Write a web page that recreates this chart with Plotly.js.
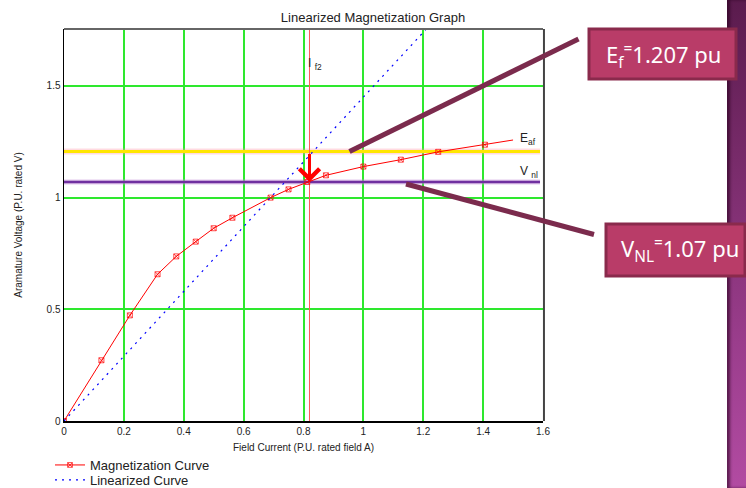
<!DOCTYPE html>
<html><head><meta charset="utf-8">
<script src="https://cdn.plot.ly/plotly-3.0.1.min.js"></script>
<style>
html,body{margin:0;padding:0;background:#fff;width:746px;height:488px;overflow:hidden;}
#bar{position:absolute;left:727px;top:0;width:19px;height:488px;
background:linear-gradient(to bottom,#5a1b4d 0%,#7a2c6c 35%,#9a3d8c 70%,#b24ba2 100%);
box-shadow:inset 3px 0 3px rgba(40,0,30,0.6);}
#chart{position:absolute;left:0;top:0;width:746px;height:488px;}
</style></head>
<body>
<div id="bar"></div>
<div id="chart"></div>
<script>
// Magnetization curve (field current vs armature voltage, p.u.)
const magCurrent = [0, 0.125, 0.22, 0.3125, 0.375, 0.44, 0.5, 0.5625, 0.69, 0.75, 0.8125, 0.875, 1.0, 1.125, 1.25, 1.406, 1.5];
const magVoltage = [0, 0.272, 0.473, 0.657, 0.737, 0.803, 0.863, 0.910, 1.0, 1.037, 1.07, 1.100, 1.139, 1.170, 1.205, 1.237, 1.258];
// Linearized (air-gap) line
const linCurrent = [0, 1.6];
const linVoltage = [0, 2.32];
// Reference values
const Ef = 1.207;
const Vnl = 1.07;
const If2 = 0.82;
const lineEnd = 1.59;
const xTicks = [0, 0.2, 0.4, 0.6, 0.8, 1, 1.2, 1.4, 1.6];
const yTicks = [0, 0.5, 1, 1.5];

const W = 746, H = 488, L = 64, R = 203, T = 29, B = 67;
const pw = W - L - R, ph = H - T - B;
const px = v => (v - L) / pw;
const py = v => (H - B - v) / ph;

const markerSizes = magCurrent.map((_, i) => i === magCurrent.length - 1 ? 0 : 5);

const traces = [
  {x: [0, lineEnd], y: [Ef, Ef], mode: 'lines', line: {color: 'rgba(255,150,170,0.35)', width: 6}, showlegend: false, hoverinfo: 'skip'},
  {x: [0, lineEnd], y: [Ef, Ef], mode: 'lines', line: {color: '#ffe600', width: 3}, showlegend: false, hoverinfo: 'skip'},
  {x: [0, lineEnd], y: [Vnl, Vnl], mode: 'lines', line: {color: 'rgba(200,150,220,0.5)', width: 5}, showlegend: false, hoverinfo: 'skip'},
  {x: [0, lineEnd], y: [Vnl, Vnl], mode: 'lines', line: {color: '#7030a0', width: 2.5}, showlegend: false, hoverinfo: 'skip'},
  {x: [If2, If2], y: [0, 1.755], mode: 'lines', line: {color: '#ff5a5a', width: 1}, showlegend: false, hoverinfo: 'skip'},
  {x: magCurrent, y: magVoltage, mode: 'lines+markers', name: 'Magnetization Curve', legend: 'legend',
   line: {color: '#ff0000', width: 1},
   marker: {symbol: 'square-x-open', size: markerSizes, color: '#ff0000', line: {width: 1, color: '#ff0000'}}},
  {x: linCurrent, y: linVoltage, mode: 'lines', name: 'Linearized Curve', legend: 'legend2',
   line: {color: '#0000ff', width: 1.2, dash: '2px,5px'}}
];

const frameFont = {family: 'Liberation Sans, Arial, sans-serif', size: 10, color: '#222'};
const lblFont = {family: 'Liberation Sans, Arial, sans-serif', size: 12, color: '#222'};
const legFont = {family: 'Liberation Sans, Arial, sans-serif', size: 13, color: '#222'};

const layout = {
  width: W, height: H,
  margin: {l: L, r: R, t: T, b: B, pad: 0, autoexpand: false},
  paper_bgcolor: 'rgba(0,0,0,0)',
  plot_bgcolor: '#ffffff',
  title: {text: 'Linearized Magnetization Graph', x: px(303.5), xanchor: 'center', y: 1 - 17 / H, yanchor: 'middle',
          font: {family: 'Liberation Sans, Arial, sans-serif', size: 13, color: '#222'}},
  xaxis: {range: [0, 1.6], tickvals: xTicks, ticktext: xTicks.map(String), showgrid: true, gridcolor: '#2ee82e', gridwidth: 2,
          zeroline: false, showline: true, linecolor: '#000', linewidth: 1.5, ticks: '', tickfont: frameFont,
          title: {text: 'Field Current (P.U. rated field A)', font: frameFont, standoff: 8}},
  yaxis: {range: [0, 1.755], tickvals: yTicks, ticktext: yTicks.map(String), showgrid: true, gridcolor: '#2ee82e', gridwidth: 2,
          zeroline: false, showline: true, linecolor: '#000', linewidth: 1.5, ticks: '', tickfont: frameFont,
          title: {text: 'Aramature Voltage (P.U. rated V)', font: frameFont, standoff: 22}},
  showlegend: true,
  legend: {x: px(50), xanchor: 'left', y: py(465), yanchor: 'middle', bgcolor: 'rgba(0,0,0,0)', font: legFont, itemwidth: 30},
  legend2: {x: px(50), xanchor: 'left', y: py(480), yanchor: 'middle', bgcolor: 'rgba(0,0,0,0)', font: legFont, itemwidth: 30},
  shapes: [
    {type: 'line', xref: 'paper', yref: 'paper', x0: 0, x1: 1, y0: 1, y1: 1, line: {color: '#666', width: 2}},
    {type: 'line', xref: 'paper', yref: 'paper', x0: 1.002, x1: 1.002, y0: 0, y1: 1, line: {color: '#444', width: 2}},
    {type: 'line', xref: 'paper', yref: 'paper', x0: px(349.5), y0: py(151.5), x1: px(578.5), y1: py(39), line: {color: '#7b2b4d', width: 5}},
    {type: 'line', xref: 'paper', yref: 'paper', x0: px(406), y0: py(184), x1: px(594), y1: py(234.5), line: {color: '#7b2b4d', width: 5}},
    {type: 'rect', xref: 'paper', yref: 'paper', x0: px(589), y0: py(29), x1: px(736), y1: py(79), fillcolor: '#b93c68', line: {color: '#8a2a4c', width: 3}},
    {type: 'rect', xref: 'paper', yref: 'paper', x0: px(606), y0: py(224), x1: px(745), y1: py(276), fillcolor: '#b93c68', line: {color: '#8a2a4c', width: 3}}
  ],
  annotations: [
    {x: If2, y: 1.07, ax: If2, ay: Ef - 0.005, xref: 'x', yref: 'y', axref: 'x', ayref: 'y', text: '', showarrow: true,
     arrowhead: 4, arrowsize: 1.3, arrowwidth: 3, arrowcolor: '#ff0000'},
    {x: 0.808, y: 1.60, xref: 'x', yref: 'y', xanchor: 'left', yanchor: 'middle', showarrow: false,
     text: 'I <sub>f2</sub>', font: lblFont},
    {x: 1.515, y: 1.262, xref: 'x', yref: 'y', xanchor: 'left', yanchor: 'middle', showarrow: false,
     text: 'E<sub>af</sub>', font: lblFont},
    {x: 1.515, y: 1.115, xref: 'x', yref: 'y', xanchor: 'left', yanchor: 'middle', showarrow: false,
     text: 'V <sub>nl</sub>', font: lblFont},
    {x: px(663), y: py(55), xref: 'paper', yref: 'paper', xanchor: 'center', yanchor: 'middle', showarrow: false,
     text: 'E<sub>f</sub><sup>=</sup>1.207 pu', font: {family: 'Noto Sans, sans-serif', size: 22, color: '#ffffff'}},
    {x: px(680), y: py(250), xref: 'paper', yref: 'paper', xanchor: 'center', yanchor: 'middle', showarrow: false,
     text: 'V<sub>NL</sub><sup>=</sup>1.07 pu', font: {family: 'Noto Sans, sans-serif', size: 22, color: '#ffffff'}}
  ]
};

Plotly.newPlot('chart', traces, layout, {displayModeBar: false, staticPlot: true});
</script>
</body></html>
